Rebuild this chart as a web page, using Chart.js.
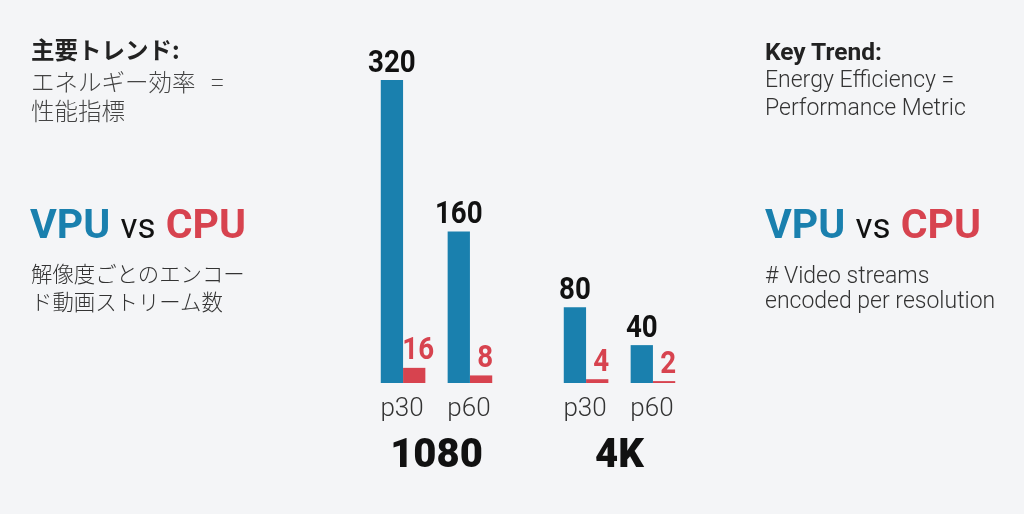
<!DOCTYPE html>
<html>
<head>
<meta charset="utf-8">
<script src="https://cdn.jsdelivr.net/npm/chart.js@4/dist/chart.umd.min.js"></script>
<style>
  html, body { margin:0; padding:0; background:#f4f5f7; }
  #wrap { position:relative; width:1024px; height:514px; overflow:hidden; background:#f4f5f7; }
  #chartBox { position:absolute; left:0; top:0; width:1024px; height:560px; }
  .txt { position:absolute; white-space:nowrap; }
  .jp { font-family:"Noto Sans CJK JP", "Noto Sans", sans-serif; }
  .ro { font-family:Roboto, "Noto Sans", sans-serif; }
  .vvc { font-family:Roboto, sans-serif; font-size:41px; line-height:40px; font-weight:700; }
  .vvc .v { color:#1a80ae; }
  .vvc .c { color:#d7434f; }
  .vvc .s { color:#111; font-weight:400; font-size:35px; }
</style>
</head>
<body>
<div id="wrap">
  <div id="chartBox"><canvas id="c"></canvas></div>

  <div class="txt jp" style="left:31px; top:35px; font-size:23.5px; line-height:29px; color:#444; font-weight:300;">
    <div style="font-weight:700; color:#222; padding-bottom:3px;">主要トレンド:</div>
    <div>エネルギー効率 &nbsp; =</div>
    <div>性能指標</div>
  </div>
  <div class="txt vvc" style="left:30px; top:204px;"><span class="v">VPU</span> <span class="s">vs</span> <span class="c">CPU</span></div>
  <div class="txt jp" style="left:31px; top:259px; font-size:21.4px; line-height:28px; color:#333; font-weight:300;">
    <div>解像度ごとのエンコー</div>
    <div>ド動画ストリーム数</div>
  </div>

  <div class="txt ro" style="left:765px; top:38px; font-size:23px; line-height:28px; color:#333; font-weight:300;">
    <div style="font-weight:700; color:#222; font-size:24.5px;">Key Trend:</div>
    <div>Energy Efficiency =</div>
    <div>Performance Metric</div>
  </div>
  <div class="txt vvc" style="left:765px; top:204px;"><span class="v">VPU</span> <span class="s">vs</span> <span class="c">CPU</span></div>
  <div class="txt ro" style="left:765px; top:264px; font-size:23px; line-height:24.7px; color:#333; font-weight:300;">
    <div># Video streams</div>
    <div>encoded per resolution</div>
  </div>
</div>
<script>
// ---- data ----
const categories = ['1080', '4K'];
const frameRates = ['p30', 'p60'];
const vpuP30 = [320, 80];
const cpuP30 = [16, 4];
const vpuP60 = [160, 40];
const cpuP60 = [8, 2];

const BLUE = '#1a80ae';
const RED = '#d7434f';

const datasets = [
  { label: 'VPU p30', role: 'vpu', sub: 0, data: vpuP30, backgroundColor: BLUE },
  { label: 'CPU p30', role: 'cpu', sub: 0, data: cpuP30, backgroundColor: RED },
  { label: '', role: 'gap', data: categories.map(() => null), backgroundColor: 'rgba(0,0,0,0)' },
  { label: 'VPU p60', role: 'vpu', sub: 1, data: vpuP60, backgroundColor: BLUE },
  { label: 'CPU p60', role: 'cpu', sub: 1, data: cpuP60, backgroundColor: RED }
];

const labelPlugin = {
  id: 'barLabels',
  afterDatasetsDraw(chart) {
    const ctx = chart.ctx;
    const area = chart.chartArea;
    ctx.save();
    chart.data.datasets.forEach((ds, i) => {
      if (ds.role === 'gap') return;
      const meta = chart.getDatasetMeta(i);
      meta.data.forEach((bar, j) => {
        const v = ds.data[j];
        ctx.save();
        ctx.translate(bar.x + (ds.role === 'cpu' ? 4 : 0), bar.y - 8.5);
        ctx.scale(0.88, 1);
        ctx.font = '700 31.5px Roboto';
        ctx.fillStyle = ds.role === 'cpu' ? RED : '#111';
        ctx.textAlign = 'center';
        ctx.textBaseline = 'alphabetic';
        ctx.fillText(String(v), 0, 0);
        ctx.restore();
      });
    });
    // frame-rate sub labels under each VPU/CPU pair
    frameRates.forEach((fr, k) => {
      const vi = chart.data.datasets.findIndex(d => d.role === 'vpu' && d.sub === k);
      const ci = chart.data.datasets.findIndex(d => d.role === 'cpu' && d.sub === k);
      const vm = chart.getDatasetMeta(vi), cm = chart.getDatasetMeta(ci);
      categories.forEach((cat, j) => {
        const x = (vm.data[j].x + cm.data[j].x) / 2 - 1;
        ctx.font = '300 26px Roboto';
        ctx.fillStyle = '#333';
        ctx.textAlign = 'center';
        ctx.textBaseline = 'alphabetic';
        ctx.fillText(fr, x, area.bottom + 33);
      });
    });
    ctx.restore();
  }
};

new Chart(document.getElementById('c'), {
  type: 'bar',
  data: { labels: categories, datasets: datasets },
  options: {
    responsive: true,
    maintainAspectRatio: false,
    animation: false,
    datasets: { bar: { categoryPercentage: 0.609, barPercentage: 1, borderWidth: 0 } },
    layout: { padding: { left: 345, right: 313, top: 80, bottom: 29 } },
    plugins: { legend: { display: false }, tooltip: { enabled: false } },
    scales: {
      x: {
        grid: { display: false, drawTicks: false },
        border: { display: false },
        ticks: { padding: 50, color: '#111', font: { family: 'Roboto', weight: 900, size: 40 } }
      },
      y: { display: false, min: 0, max: 320 }
    }
  },
  plugins: [labelPlugin]
});
</script>
</body>
</html>
